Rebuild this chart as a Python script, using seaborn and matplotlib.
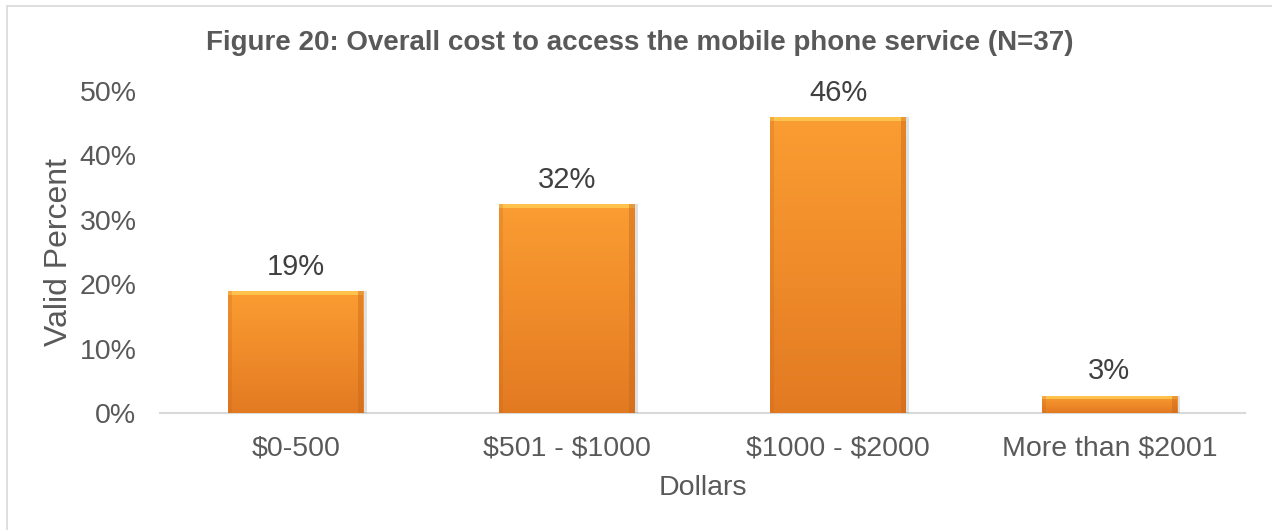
import matplotlib
matplotlib.use("Agg")
import matplotlib.pyplot as plt
import seaborn as sns
import numpy as np
import pandas as pd
from matplotlib.colors import LinearSegmentedColormap
from matplotlib.patches import Rectangle
from matplotlib.lines import Line2D

categories = ["$0-500", "$501 - $1000", "$1000 - $2000", "More than $2001"]
values = [7/37, 12/37, 17/37, 1/37]
labels = ["19%", "32%", "46%", "3%"]
title = "Figure 20: Overall cost to access the mobile phone service (N=37)"

sns.set_theme(style="white")
plt.rcParams['font.family'] = ['Liberation Sans', 'DejaVu Sans']
plt.rcParams['text.parse_math'] = False

fig = plt.figure(figsize=(12.72, 5.30), dpi=100)
ax = fig.add_axes([0.1258, 0.2208, 0.8530, 0.6075])

df = pd.DataFrame({"cat": categories, "val": values})
sns.barplot(data=df, x="cat", y="val", ax=ax, color="#F39A2E", width=0.5,
            saturation=1, edgecolor="none")

cmap = LinearSegmentedColormap.from_list("o", ["#E27A22", "#F08C2A", "#FA9D32"])
grad = np.linspace(0, 1, 256).reshape(-1, 1)
for p, lab in zip(ax.patches, labels):
    x0, y0 = p.get_x(), p.get_y()
    w, h = p.get_width(), p.get_height()
    sh = Rectangle((x0 + 0.012, y0), w, h, facecolor="#000000", alpha=0.12,
                   edgecolor="none", zorder=1.5)
    ax.add_patch(sh)
    im = ax.imshow(grad, extent=[x0, x0 + w, y0, y0 + h], origin="lower",
                   cmap=cmap, aspect="auto", zorder=2)
    im.set_clip_path(p)
    ax.add_patch(Rectangle((x0, y0 + h - 0.006), w, 0.006, facecolor="#FFC34D",
                           edgecolor="none", zorder=3))
    ax.add_patch(Rectangle((x0 + w - 0.02, y0), 0.02, h, facecolor="#C8661A",
                           alpha=0.45, edgecolor="none", zorder=3))
    ax.add_patch(Rectangle((x0, y0), 0.015, h, facecolor="#C8661A",
                           alpha=0.25, edgecolor="none", zorder=3))
    ax.text(x0 + w / 2, y0 + h + 0.016, lab, ha="center", va="bottom",
            fontsize=21, color="#404040")

ax.set_xlim(-0.5, 3.5)
ax.set_ylim(0, 0.5)
ax.set_yticks([0, 0.1, 0.2, 0.3, 0.4, 0.5])
ax.set_yticklabels(["0%", "10%", "20%", "30%", "40%", "50%"])
ax.tick_params(axis="y", length=0, labelsize=20.5, colors="#595959", pad=17)
ax.tick_params(axis="x", length=0, labelsize=20.5, colors="#595959", pad=16)
for s in ["top", "right", "left"]:
    ax.spines[s].set_visible(False)
ax.spines["bottom"].set_color("#D9D9D9")
ax.spines["bottom"].set_linewidth(1.5)
ax.spines["bottom"].set_zorder(1)
ax.set_xlabel("Dollars", fontsize=20.5, color="#595959", labelpad=10)
ax.set_ylabel("Valid Percent", fontsize=23, color="#595959", labelpad=4)

fig.text(640 / 1272, 1 - 43 / 530, title, ha="center", va="center",
         fontsize=20, fontweight="bold", color="#595959")

fig.lines.append(Line2D([7 / 1272, 7 / 1272], [0, 1 - 6 / 530],
                        transform=fig.transFigure, color="#D9D9D9", linewidth=1.2))
fig.lines.append(Line2D([7 / 1272, 1], [1 - 6 / 530, 1 - 6 / 530],
                        transform=fig.transFigure, color="#D9D9D9", linewidth=1.2))

fig.savefig("out.png", dpi=100)
